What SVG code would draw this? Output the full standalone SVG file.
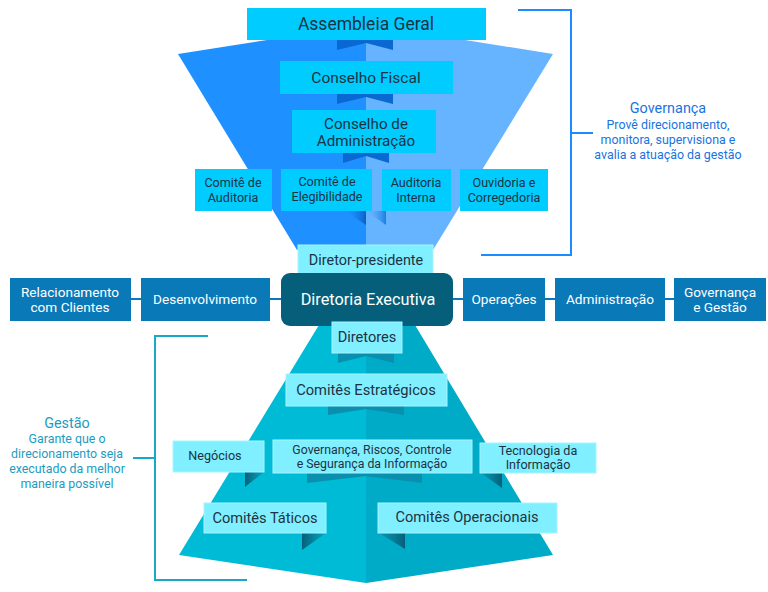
<svg xmlns="http://www.w3.org/2000/svg" width="768" height="592" viewBox="0 0 768 592">
<defs>
<style>
text{font-family:Roboto,"Liberation Sans",Arial,sans-serif;text-anchor:middle}
.t1{fill:#1d3344}
.tw{fill:#ffffff}
.top{fill:#00ccff}
.lt{fill:#80efff;stroke:#a8f5ff;stroke-width:1}
.side{fill:#0a79b8}
.rib{fill:#0a68d2}
.ribt{fill:#0a8fae}
.fold{fill:url(#gfold)}
.foldr{fill:url(#gfoldr)}
.conn{stroke:#0a79b8;stroke-width:2;fill:none}
.brg{stroke:#1a8cff;stroke-width:2;fill:none}
.brt{stroke:#19a8c9;stroke-width:2;fill:none}
</style>
<linearGradient id="gfold" x1="0" y1="0" x2="1" y2="0">
<stop offset="0" stop-color="#0b6f88" stop-opacity="0.3"/>
<stop offset="1" stop-color="#075f78"/>
</linearGradient>
<linearGradient id="gfoldr" x1="1" y1="0" x2="0" y2="0">
<stop offset="0" stop-color="#0b6f88" stop-opacity="0.3"/>
<stop offset="1" stop-color="#075f78"/>
</linearGradient>
<linearGradient id="gblue" x1="0" y1="0" x2="1" y2="0">
<stop offset="0" stop-color="#1e90ff" stop-opacity="0"/>
<stop offset="1" stop-color="#0a5fc8"/>
</linearGradient>
<linearGradient id="gblue2" x1="0" y1="0" x2="1" y2="0">
<stop offset="0" stop-color="#66b3ff" stop-opacity="0"/>
<stop offset="1" stop-color="#1a7fe0"/>
</linearGradient>
</defs>

<g id="funnel">
<polygon points="178,54 267,40 366,40 366,250 297,250" fill="#1e90ff"/>
<polygon points="366,40 465,40 553,54 433,250 366,250" fill="#66b3ff"/>
<polygon points="337,40 393,40 393,50 366,43 337,50" class="rib"/>
<polygon points="337,94 393,94 393,104 366,97 337,104" class="rib"/>
<polygon points="343,153 389,153 389,163 366,156 343,163" class="rib"/>
<polygon points="345,211 366,211 366,225" fill="url(#gblue)"/>
<polygon points="366,211 386,211 386,225" fill="url(#gblue2)"/>
</g>

<g id="pyramid">
<polygon points="322,320 366,320 366,583 179,555" fill="#00bbd6"/>
<polygon points="366,320 412,320 553,555 366,583" fill="#00abc8"/>
<polygon points="338,353 394,353 394,363 366,356 338,363" class="ribt"/>
<polygon points="328,406 404,406 404,415 366,409 328,415" class="ribt"/>
<polygon points="307,473 422,473 422,483 366,476 307,483" class="ribt"/>
<polygon points="245,472 264,472 245,487" class="foldr"/>
<polygon points="481,473 502,473 502,488" class="fold"/>
<polygon points="302,533 326,533 302,550" class="foldr"/>
<polygon points="379,533 405,533 405,549" class="fold"/>
</g>

<g id="connectors">
<line x1="131" y1="299" x2="141" y2="299" class="conn"/>
<line x1="270" y1="299" x2="282" y2="299" class="conn"/>
<line x1="452" y1="299" x2="463" y2="299" class="conn"/>
<line x1="545" y1="299" x2="555" y2="299" class="conn"/>
<line x1="665" y1="299" x2="674" y2="299" class="conn"/>
<polyline points="518,10 571,10 571,255 481,255" class="brg"/>
<line x1="571" y1="133" x2="593" y2="133" class="brg"/>
<polyline points="208,336 155,336 155,580 247,580" class="brt"/>
<line x1="133" y1="458" x2="155" y2="458" class="brt"/>
</g>

<g id="assembleia-geral">
<rect x="247" y="8" width="239" height="32" class="top"/>
<text x="366" y="30" font-size="17.5" class="t1">Assembleia Geral</text>
</g>
<g id="conselho-fiscal">
<rect x="280" y="61" width="173" height="33" class="top"/>
<text x="366" y="83" font-size="15.5" class="t1">Conselho Fiscal</text>
</g>
<g id="conselho-administracao">
<rect x="292" y="110" width="144" height="43" class="top"/>
<text x="366" y="129" font-size="15.2" class="t1">Conselho de</text>
<text x="366" y="146" font-size="15.2" class="t1">Administração</text>
</g>
<g id="comite-auditoria">
<rect x="195" y="169" width="77" height="42" class="top"/>
<text x="233" y="187" font-size="12.6" class="t1">Comitê de</text>
<text x="233" y="202" font-size="12.6" class="t1">Auditoria</text>
</g>
<g id="comite-elegibilidade">
<rect x="281" y="169" width="91" height="42" class="top"/>
<text x="327" y="186" font-size="12.6" class="t1">Comitê de</text>
<text x="327" y="201" font-size="12.6" class="t1">Elegibilidade</text>
</g>
<g id="auditoria-interna">
<rect x="382" y="169" width="69" height="42" class="top"/>
<text x="416" y="187" font-size="12.6" class="t1">Auditoria</text>
<text x="416" y="202" font-size="12.6" class="t1">Interna</text>
</g>
<g id="ouvidoria">
<rect x="460" y="169" width="88" height="42" class="top"/>
<text x="504" y="187" font-size="12.6" class="t1">Ouvidoria e</text>
<text x="504" y="202" font-size="12.6" class="t1">Corregedoria</text>
</g>

<g id="diretor-presidente">
<rect x="298" y="245" width="135" height="31" class="lt"/>
<text x="366" y="265" font-size="14.4" class="t1">Diretor-presidente</text>
</g>
<g id="diretoria-executiva">
<rect x="281" y="273" width="172" height="53" rx="9" fill="#065f7a"/>
<text x="368" y="305" font-size="16.3" class="tw">Diretoria Executiva</text>
</g>
<g id="relacionamento">
<rect x="10" y="278" width="121" height="43" class="side"/>
<text x="70" y="297" font-size="13.6" class="tw">Relacionamento</text>
<text x="70" y="312" font-size="13.6" class="tw">com Clientes</text>
</g>
<g id="desenvolvimento">
<rect x="141" y="278" width="129" height="43" class="side"/>
<text x="205" y="304" font-size="13.6" class="tw">Desenvolvimento</text>
</g>
<g id="operacoes">
<rect x="463" y="278" width="82" height="43" class="side"/>
<text x="504" y="304" font-size="13.6" class="tw">Operações</text>
</g>
<g id="administracao">
<rect x="555" y="278" width="110" height="43" class="side"/>
<text x="610" y="304" font-size="13.6" class="tw">Administração</text>
</g>
<g id="governanca-gestao">
<rect x="674" y="278" width="92" height="43" class="side"/>
<text x="720" y="297" font-size="13.6" class="tw">Governança</text>
<text x="720" y="312" font-size="13.6" class="tw">e Gestão</text>
</g>

<g id="diretores">
<rect x="332" y="322" width="70" height="31" class="lt"/>
<text x="367" y="342" font-size="14.6" class="t1">Diretores</text>
</g>
<g id="comites-estrategicos">
<rect x="286" y="374" width="161" height="32" class="lt"/>
<text x="366" y="395" font-size="14.7" class="t1">Comitês Estratégicos</text>
</g>
<g id="negocios">
<rect x="173" y="441" width="91" height="31" class="lt"/>
<text x="215" y="460" font-size="12.6" class="t1">Negócios</text>
</g>
<g id="governanca-riscos">
<rect x="273" y="440" width="199" height="33" class="lt"/>
<text x="372" y="454" font-size="12.3" class="t1">Governança, Riscos, Controle</text>
<text x="372" y="468" font-size="12.3" class="t1">e Segurança da Informação</text>
</g>
<g id="tecnologia">
<rect x="480" y="443" width="116" height="30" class="lt"/>
<text x="538" y="455" font-size="12.6" class="t1">Tecnologia da</text>
<text x="538" y="469" font-size="12.6" class="t1">Informação</text>
</g>
<g id="comites-taticos">
<rect x="204" y="503" width="122" height="30" class="lt"/>
<text x="265" y="523" font-size="14.6" class="t1">Comitês Táticos</text>
</g>
<g id="comites-operacionais">
<rect x="378" y="503" width="179" height="30" class="lt"/>
<text x="467" y="522" font-size="14.6" class="t1">Comitês Operacionais</text>
</g>

<g id="label-governanca" fill="#1a73e0">
<text x="668" y="113" font-size="14.4">Governança</text>
<text x="668" y="129" font-size="12.4">Provê direcionamento,</text>
<text x="668" y="144" font-size="12.4">monitora, supervisiona e</text>
<text x="668" y="159" font-size="12.4">avalia a atuação da gestão</text>
</g>
<g id="label-gestao" fill="#1c9cc0">
<text x="67" y="428" font-size="14.4">Gestão</text>
<text x="67" y="443" font-size="12.4">Garante que o</text>
<text x="67" y="458" font-size="12.4">direcionamento seja</text>
<text x="67" y="473" font-size="12.4">executado da melhor</text>
<text x="67" y="488" font-size="12.4">maneira possível</text>
</g>
</svg>
